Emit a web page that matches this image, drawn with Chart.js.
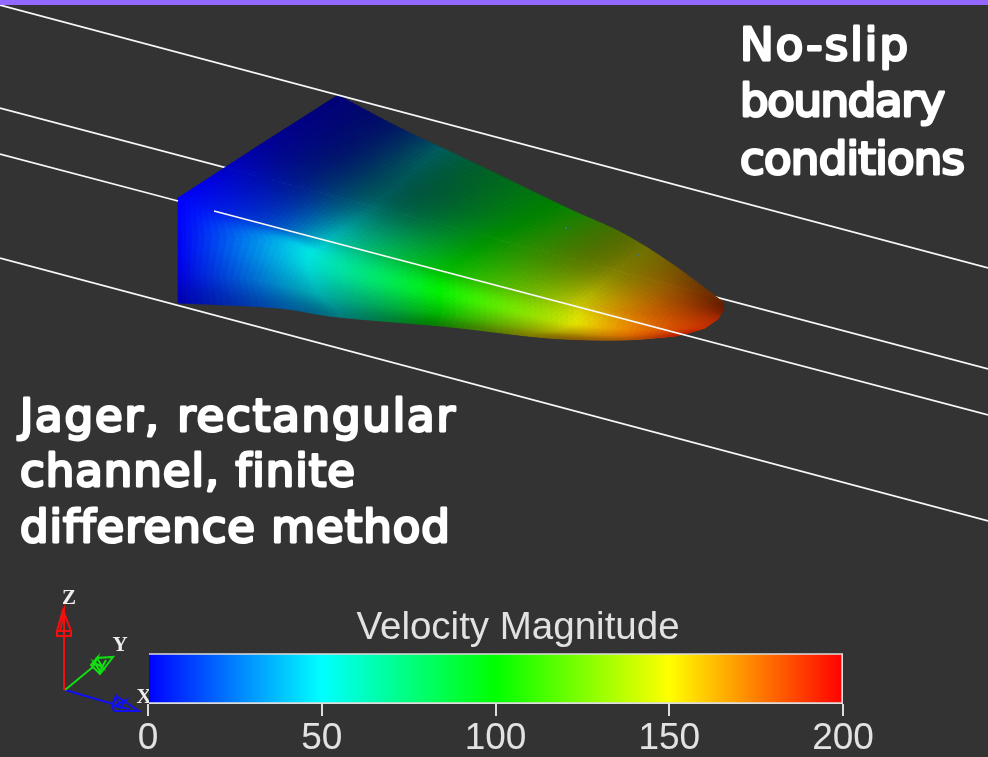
<!DOCTYPE html>
<html>
<head>
<meta charset="utf-8">
<title>Velocity Magnitude</title>
<script src="https://cdn.jsdelivr.net/npm/chart.js@4"></script>
<style>
	html, body { margin: 0; padding: 0; background: #333333; overflow: hidden; }
	#wrap { position: relative; width: 988px; height: 757px; }
	#band { position: absolute; left: 0; top: 0; width: 988px; height: 5px; background: #9268ff; z-index: 3; }
	canvas { filter: blur(0.45px); }
	#sceneChart { position: absolute; left: 0; top: 0; }
	#barChart { position: absolute; left: 88px; top: 600px; }
</style>
</head>
<body>
<div id="wrap">
	<div id="band"></div>
	<canvas id="sceneChart" width="988" height="757"></canvas>
	<canvas id="barChart" width="860" height="157"></canvas>
</div>
<script>
// colour bar
const barTicks = [0, 50, 100, 150, 200];
const barColors = ['#0000ff', '#00ffff', '#00ff00', '#ffff00', '#ff0000'];
const barTitle = 'Velocity Magnitude';

// streamlines (null = hidden behind the wedge)
const lineAX = [0, 988];
const lineAY = [5, 268];
const lineBX = [0, 988];
const lineBY = [108, 369];
const lineCX = [0, 178, null, 214, 988];
const lineCY = [154, 201, null, 211, 415];
const lineDX = [0, 988];
const lineDY = [258, 521];

// wedge surface control points: rows go from back face to the tip
const meshX = [
	[338, 400, 474, 567, 622, 672, 723],
	[258, 320, 400, 500, 590, 668, 724],
	[178, 270, 345, 456, 548, 630, 718],
	[178, 285, 345, 456, 548, 626, 705],
	[178, 270, 345, 456, 548, 624, 692],
	[178, 277, 337, 450, 548, 622, 675]
];
const meshY = [
	[95, 128, 163, 208, 233, 264, 302],
	[146, 175, 205, 240, 265, 289, 309],
	[198, 225, 247, 275, 298, 312, 319],
	[235, 243, 270, 295, 318, 328, 328],
	[270, 283, 300, 315, 330, 336, 332],
	[303, 308, 317, 327, 338, 340, 336]
];
const meshSpeed = [
	[0, 14, 74, 104, 136, 162, 184],
	[0, 13, 60, 103, 140, 170, 187],
	[0, 18, 60, 105, 137, 170, 188],
	[0, 40, 65, 106, 138, 170, 188],
	[0, 32, 60, 108, 147, 174, 190],
	[0, 25, 48, 112, 158, 174, 191]
];
const meshShade = [
	[0.47, 0.39, 0.37, 0.51, 0.43, 0.47, 0.43],
	[0.63, 0.47, 0.37, 0.57, 0.49, 0.59, 0.43],
	[1.00, 0.80, 0.75, 0.75, 0.75, 0.82, 0.67],
	[0.98, 0.92, 0.90, 0.96, 0.89, 0.92, 0.78],
	[0.90, 0.80, 0.67, 0.75, 0.70, 0.84, 0.75],
	[0.70, 0.65, 0.50, 0.51, 0.51, 0.67, 0.75]
];
const speckX = [566, 638];
const speckY = [228, 255];

// axes triad
const axisZX = [64, 64, 57, 57, 63, 71, 71, 64, 64, 60, 67, 57, 71];
const axisZY = [690, 636, 636, 631, 610, 631, 636, 636, 612, 631, 631, 631, 631];
const axisYX = [65, 93, 97, 91, 100, 113, 97, 103, 94, 100, 106];
const axisYY = [690, 667, 658, 665, 674, 657, 658, 668, 662, 671, 660];
const axisXX = [65, 113, 116, 139, 114, 112, 116, 120, 126, 114, 130];
const axisXY = [690, 704, 696, 711, 711, 705, 696, 708, 700, 706, 709];
const triadLabels = ['Z', 'Y', 'X'];
const triadLabelX = [69, 120, 144];
const triadLabelY = [599, 646, 698];

// captions and the widths they span in the picture
const captionRight = ['No-slip', 'boundary', 'conditions'];
const captionRightY = [48, 104, 162];
const captionRightWidth = [168, 205, 225];
const captionLeft = ['Jager, rectangular', 'channel, finite', 'difference method'];
const captionLeftY = [419, 474, 530];
const captionLeftWidth = [435, 335, 429];

function toPoints(xs, ys) {
	return xs.map((x, i) => (x === null ? { x: NaN, y: NaN } : { x: x, y: ys[i] }));
}

function speedColor(v, shade) {
	const step = barTicks[1] - barTicks[0];
	const i = Math.max(0, Math.min(Math.floor(v / step), barTicks.length - 2));
	const t = Math.max(0, Math.min(1, (v - barTicks[i]) / step));
	const a = barColors[i], b = barColors[i + 1];
	const ch = (p) => {
		const c0 = parseInt(a.substr(p, 2), 16), c1 = parseInt(b.substr(p, 2), 16);
		return Math.round((c0 + (c1 - c0) * t) * Math.min(1, shade));
	};
	return `rgb(${ch(1)},${ch(3)},${ch(5)})`;
}

function cr(p0, p1, p2, p3, t) {
	return 0.5 * (2 * p1 + (p2 - p0) * t + (2 * p0 - 5 * p1 + 4 * p2 - p3) * t * t + (3 * p1 - p0 - 3 * p2 + p3) * t * t * t);
}

// lookup between control points: curved along the flow, curved or straight across it
function sampleGrid(grid, rowPos, colPos, straightRows) {
	const rows = grid.length, cols = grid[0].length;
	const r = Math.min(Math.floor(rowPos), rows - 2), c = Math.min(Math.floor(colPos), cols - 2);
	const at = (i, j) => grid[Math.max(0, Math.min(rows - 1, i))][Math.max(0, Math.min(cols - 1, j))];
	const u = colPos - c, w = rowPos - r;
	const rowVal = (i) => cr(at(i, c - 1), at(i, c), at(i, c + 1), at(i, c + 2), u);
	if (straightRows) return rowVal(r) + (rowVal(r + 1) - rowVal(r)) * w;
	return cr(rowVal(r - 1), rowVal(r), rowVal(r + 1), rowVal(r + 2), w);
}

// paints the wedge from the control points, called when its dataset comes up
function drawSurface(chart) {
	const { ctx, scales } = chart;
	const n = 16;
	const rowsN = (meshX.length - 1) * n, colsN = (meshX[0].length - 1) * n;
	const px = (i, j) => scales.x.getPixelForValue(sampleGrid(meshX, i / n, j / n, true));
	const py = (i, j) => scales.y.getPixelForValue(sampleGrid(meshY, i / n, j / n, true));
	ctx.save();
	ctx.lineWidth = 0.7;
	for (let i = 0; i < rowsN; i++) {
		for (let j = 0; j < colsN; j++) {
			ctx.beginPath();
			ctx.moveTo(px(i, j), py(i, j));
			ctx.lineTo(px(i + 1, j), py(i + 1, j));
			ctx.lineTo(px(i + 1, j + 1), py(i + 1, j + 1));
			ctx.lineTo(px(i, j + 1), py(i, j + 1));
			ctx.closePath();
			const v = sampleGrid(meshSpeed, (i + 0.5) / n, (j + 0.5) / n);
			const s = sampleGrid(meshShade, (i + 0.5) / n, (j + 0.5) / n);
			const col = speedColor(v, s);
			ctx.fillStyle = col;
			ctx.strokeStyle = col;
			ctx.fill();
			ctx.stroke();
		}
	}
	ctx.restore();
}

const surfacePlugin = {
	id: 'surface',
	beforeDatasetDraw(chart, args) {
		if (chart.data.datasets[args.index].label === 'surface') drawSurface(chart);
	}
};

function drawCaption(chart, lines, ys, widths, left) {
	const { ctx } = chart;
	ctx.save();
	ctx.font = '45px "DejaVu Sans"';
	ctx.fillStyle = '#ffffff';
	ctx.strokeStyle = '#ffffff';
	ctx.lineWidth = 2.8;
	ctx.lineJoin = 'round';
	ctx.textBaseline = 'middle';
	lines.forEach((t, i) => {
		ctx.letterSpacing = '0px';
		const extra = (widths[i] - ctx.measureText(t).width) / (t.length - 1);
		ctx.letterSpacing = extra.toFixed(2) + 'px';
		ctx.fillText(t, left, ys[i]);
		ctx.strokeText(t, left, ys[i]);
	});
	ctx.restore();
}

const textPlugin = {
	id: 'sceneText',
	afterDraw(chart) {
		const { ctx, scales } = chart;
		drawCaption(chart, captionRight, captionRightY, captionRightWidth, 740);
		drawCaption(chart, captionLeft, captionLeftY, captionLeftWidth, 20);
		ctx.save();
		ctx.font = 'bold 21px "Liberation Serif"';
		ctx.fillStyle = '#eeeeee';
		ctx.textAlign = 'center';
		ctx.textBaseline = 'middle';
		triadLabels.forEach((t, i) => {
			ctx.fillText(t, scales.x.getPixelForValue(triadLabelX[i]), scales.y.getPixelForValue(triadLabelY[i]));
		});
		ctx.restore();
	}
};

function streamline(xs, ys) {
	return { data: toPoints(xs, ys), showLine: true, borderColor: '#f8f8f8', borderWidth: 1.7, pointRadius: 0, spanGaps: false };
}

function triadAxis(xs, ys, color) {
	return { data: toPoints(xs, ys), showLine: true, borderColor: color, borderWidth: 2, pointRadius: 0 };
}

// datasets are painted last to first
new Chart(document.getElementById('sceneChart'), {
	type: 'scatter',
	data: {
		datasets: [
			triadAxis(axisZX, axisZY, '#f01010'),
			triadAxis(axisYX, axisYY, '#10e010'),
			triadAxis(axisXX, axisXY, '#1010f0'),
			{ data: toPoints(speckX, speckY), pointRadius: 1, pointBorderWidth: 0, backgroundColor: '#3c78a0' },
			streamline(lineCX, lineCY),
			streamline(lineDX, lineDY),
			streamline(lineAX, lineAY),
			{ label: 'surface', data: toPoints(meshX.flat(), meshY.flat()), pointRadius: 0 },
			streamline(lineBX, lineBY)
		]
	},
	options: {
		responsive: false,
		animation: false,
		layout: { padding: 0, autoPadding: false },
		plugins: { legend: { display: false }, tooltip: { enabled: false } },
		scales: {
			x: { type: 'linear', min: 0, max: 988, display: false },
			y: { type: 'linear', min: 0, max: 757, reverse: true, display: false }
		}
	},
	plugins: [surfacePlugin, textPlugin]
});

new Chart(document.getElementById('barChart'), {
	type: 'bar',
	data: {
		labels: [barTitle],
		datasets: [{
			data: [barTicks[barTicks.length - 1]],
			barPercentage: 1,
			categoryPercentage: 1,
			borderColor: '#dddddd',
			borderWidth: 2,
			backgroundColor(context) {
				const { chart } = context;
				if (!chart.chartArea) return barColors[0];
				const sx = chart.scales.x;
				const last = barTicks[barTicks.length - 1];
				const g = chart.ctx.createLinearGradient(sx.getPixelForValue(0), 0, sx.getPixelForValue(last), 0);
				barTicks.forEach((v, i) => g.addColorStop(v / last, barColors[i]));
				return g;
			}
		}]
	},
	options: {
		indexAxis: 'y',
		responsive: false,
		animation: false,
		layout: { padding: 0, autoPadding: false },
		plugins: {
			legend: { display: false },
			tooltip: { enabled: false },
			title: {
				display: true,
				text: barTitle,
				color: '#e2e2e2',
				font: { family: '"Liberation Sans"', size: 38.5, weight: 'normal', lineHeight: 1.2 },
				padding: { top: 5, bottom: 2 }
			}
		},
		scales: {
			x: {
				type: 'linear',
				min: 0,
				max: 200,
				afterBuildTicks(axis) { axis.ticks = barTicks.map(v => ({ value: v })); },
				afterFit(axis) { axis.height = 53; },
				grid: { drawOnChartArea: false, drawTicks: true, tickLength: 12, color: '#dddddd', lineWidth: 2 },
				border: { display: false },
				ticks: { color: '#e2e2e2', padding: 1, maxRotation: 0, font: { family: '"Liberation Sans"', size: 37 } }
			},
			// blank side axes hold the bar in place under the off-centre title
			y: {
				afterFit(axis) { axis.width = 60; },
				grid: { display: false },
				border: { display: false },
				ticks: { display: false }
			},
			side: {
				type: 'linear',
				position: 'right',
				afterFit(axis) { axis.width = 105; },
				grid: { display: false },
				border: { display: false },
				ticks: { display: false }
			}
		}
	}
});
</script>
</body>
</html>
